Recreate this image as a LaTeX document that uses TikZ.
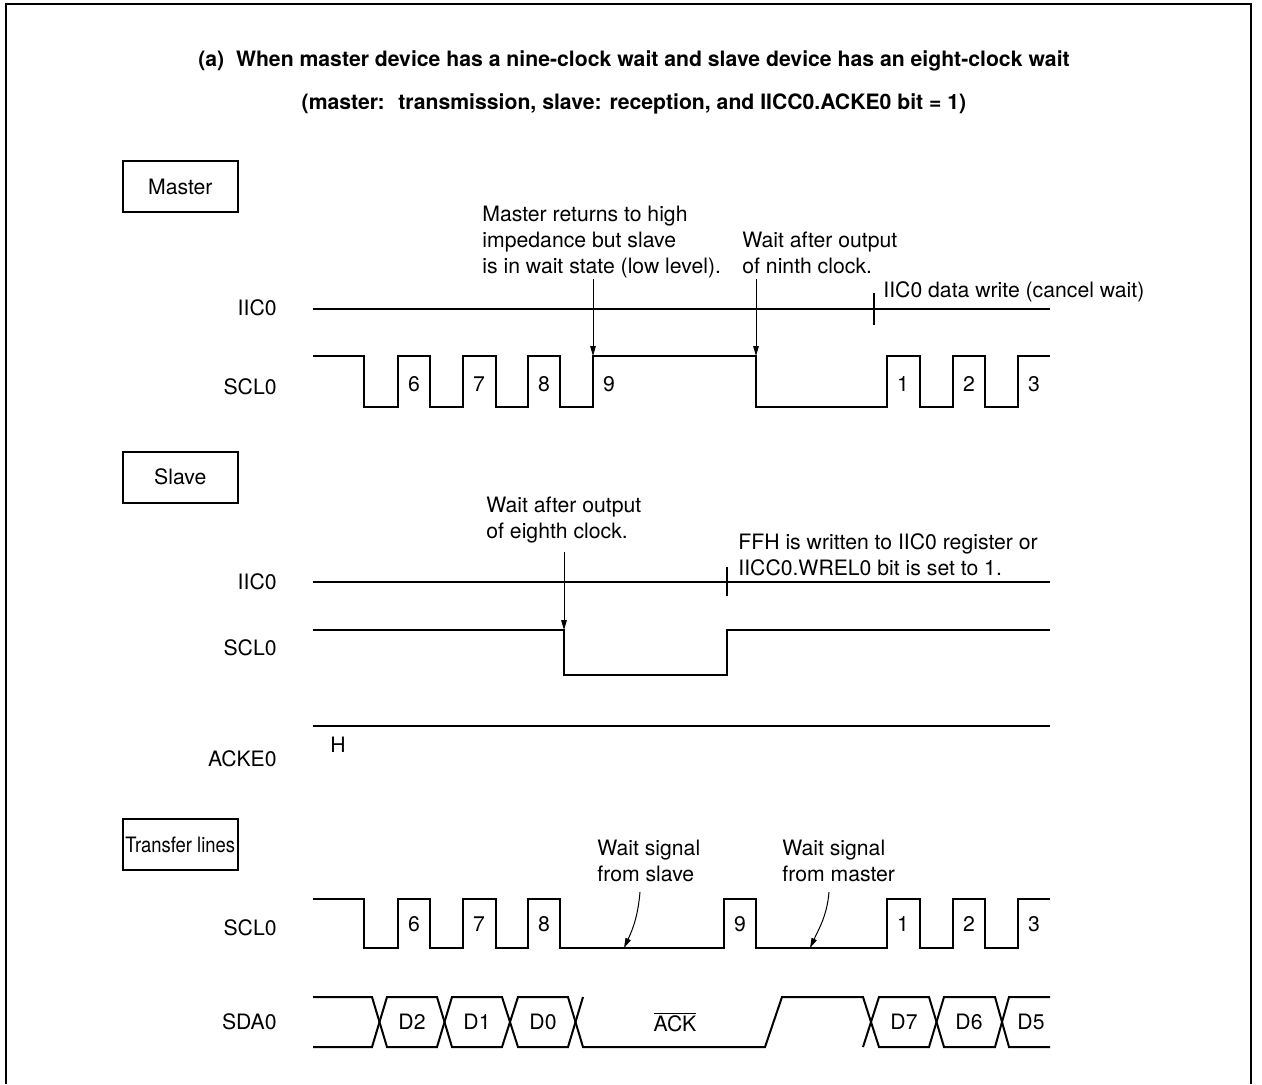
\documentclass[tikz,border=0pt]{standalone}
\usepackage{fontspec}
\setmainfont{TeX Gyre Heros}
\usepackage{graphicx}
\usetikzlibrary{arrows.meta}

\begin{document}
\begin{tikzpicture}[x=0.5pt,y=-0.5pt,
    font=\fontsize{10.6}{13}\selectfont,
    wave/.style={line width=1pt},
    signame/.style={anchor=east,inner sep=0pt},
    num/.style={inner sep=0pt},
    note/.style={anchor=north west,align=left,inner sep=0pt},
    rolebox/.style={draw,line width=0.9pt,minimum width=57.7pt,minimum height=25.5pt,inner sep=0pt},
    pin/.style={-{Triangle[length=5pt,width=2.8pt]},line width=0.5pt}]
  \useasboundingbox (0,0) rectangle (1262,1084);
  \draw[line width=1pt] (6,1084) -- (6,4) -- (1251,4) -- (1251,1084);
  % title
  \node[anchor=base,font=\fontsize{10.6}{13}\selectfont\bfseries] (title) at (634,66)
    {(a)~ When master device has a nine-clock wait and slave device has an eight-clock wait};
  \node[anchor=base,font=\fontsize{10.6}{13}\selectfont\bfseries] (subtitle) at (634,109)
    {(master:~ transmission, slave: reception, and IICC0.ACKE0 bit = 1)};

  % master side
  \node[rolebox] (master) at (180.3,186.5) {Master};
  \node[signame] (miic) at (277,308) {IIC0};
  \node[signame] (mscl) at (277,387) {SCL0};
  \draw[wave] (313,309) -- (1050,309);
  \draw[wave] (874,293) -- (874,325);
  \draw[wave] (313,356) -| (364,407) -| (398,356) -| (430,407) -| (463,356) -| (496,407)
    -| (528,356) -| (560,407) -| (593,356) -| (756,407) -| (887,356) -| (920,407)
    -| (953,356) -| (985,407) -| (1018,356) -- (1050,356);
  \node[num] (m6) at (414,384) {6};
  \node[num] (m7) at (479,384) {7};
  \node[num] (m8) at (544,384) {8};
  \node[num] (m9) at (609,384) {9};
  \node[num] (m1) at (903,384) {1};
  \node[num] (m2) at (969,384) {2};
  \node[num] (m3) at (1034,384) {3};
  \node[note] (mret) at (482,206) {Master returns to high\\impedance but slave\\is in wait state (low level).};
  \node[note] (mninth) at (742,232) {Wait after output\\of ninth clock.};
  \node[anchor=base west,inner sep=0pt] (mwrite) at (883,297) {IIC0 data write (cancel wait)};
  \coordinate (mretA) at (593,279);
  \coordinate (mretB) at (593,356);
  \coordinate (mninA) at (756,279);
  \coordinate (mninB) at (756,356);
  \draw[pin] (mretA) -- (mretB);
  \draw[pin] (mninA) -- (mninB);

  % slave side
  \node[rolebox] (slave) at (180.3,477.2) {Slave};
  \node[signame] (siic) at (277,582) {IIC0};
  \node[signame] (sscl) at (277,648) {SCL0};
  \node[signame] (sack) at (277,759) {ACKE0};
  \draw[wave] (313,582) -- (1050,582);
  \draw[wave] (727,567) -- (727,596);
  \draw[wave] (313,630) -| (564,675) -| (727,630) -- (1050,630);
  \draw[wave] (313,726) -- (1050,726);
  \node (high) at (338,745) {H};
  \node[note] (seighth) at (486,497) {Wait after output\\of eighth clock.};
  \node[note] (sffh) at (738,533) {FFH is written to IIC0 register or\\IICC0.WREL0 bit is set to 1.};
  \coordinate (seiA) at (564,552);
  \coordinate (seiB) at (564,630);
  \draw[pin] (seiA) -- (seiB);

  % transfer lines
  \node[rolebox] (xfer) at (180.3,844.5) {\scalebox{0.87}[1]{Transfer lines}};
  \node[signame] (tscl) at (277,928) {SCL0};
  \node[signame] (tsda) at (277,1022) {SDA0};
  \draw[wave] (313,899) -| (364,948) -| (398,899) -| (430,948) -| (463,899) -| (496,948)
    -| (528,899) -| (560,948) -| (724,899) -| (756,948) -| (887,899) -| (920,948)
    -| (953,899) -| (985,948) -| (1018,899) -- (1050,899);
  \node[num] (t6) at (414,924) {6};
  \node[num] (t7) at (479,924) {7};
  \node[num] (t8) at (544,924) {8};
  \node[num] (t9) at (740,924) {9};
  \node[num] (t1) at (903,924) {1};
  \node[num] (t2) at (969,924) {2};
  \node[num] (t3) at (1034,924) {3};
  \draw[wave] (313,997) -- (372,997) -- (387,1047) -- (437,1047) -- (452,997) -- (502,997)
    -- (518,1047) -- (568,1047) -- (583,997);
  \draw[wave] (313,1047) -- (372,1047) -- (387,997) -- (437,997) -- (452,1047) -- (502,1047)
    -- (518,997) -- (568,997) -- (583,1047) -- (765,1047) -- (782,997) -- (863,997)
    -- (879,1047) -- (929,1047) -- (944,997) -- (995,997) -- (1009,1047) -- (1050,1047);
  \draw[wave] (863,1047) -- (879,997) -- (929,997) -- (944,1047) -- (995,1047) -- (1009,997) -- (1050,997);
  \node[num] (d2) at (412,1022) {D2};
  \node[num] (d1) at (477,1022) {D1};
  \node[num] (d0) at (543,1022) {D0};
  \node[num] (ack) at (675,1022) {$\overline{\mbox{ACK}}$};
  \node[num] (d7) at (904,1022) {D7};
  \node[num] (d6) at (969,1022) {D6};
  \node[num] (d5) at (1031,1022) {D5};
  \node[note] (fslave) at (597,840) {Wait signal\\from slave};
  \node[note] (fmaster) at (782,840) {Wait signal\\from master};
  \coordinate (fslA) at (640,892);
  \coordinate (fslB) at (624,948);
  \coordinate (fmaA) at (829,892);
  \coordinate (fmaB) at (810,948);
  \draw[pin] (fslA) to[out=-95,in=65] (fslB);
  \draw[pin] (fmaA) to[out=-95,in=65] (fmaB);
\end{tikzpicture}
\end{document}
